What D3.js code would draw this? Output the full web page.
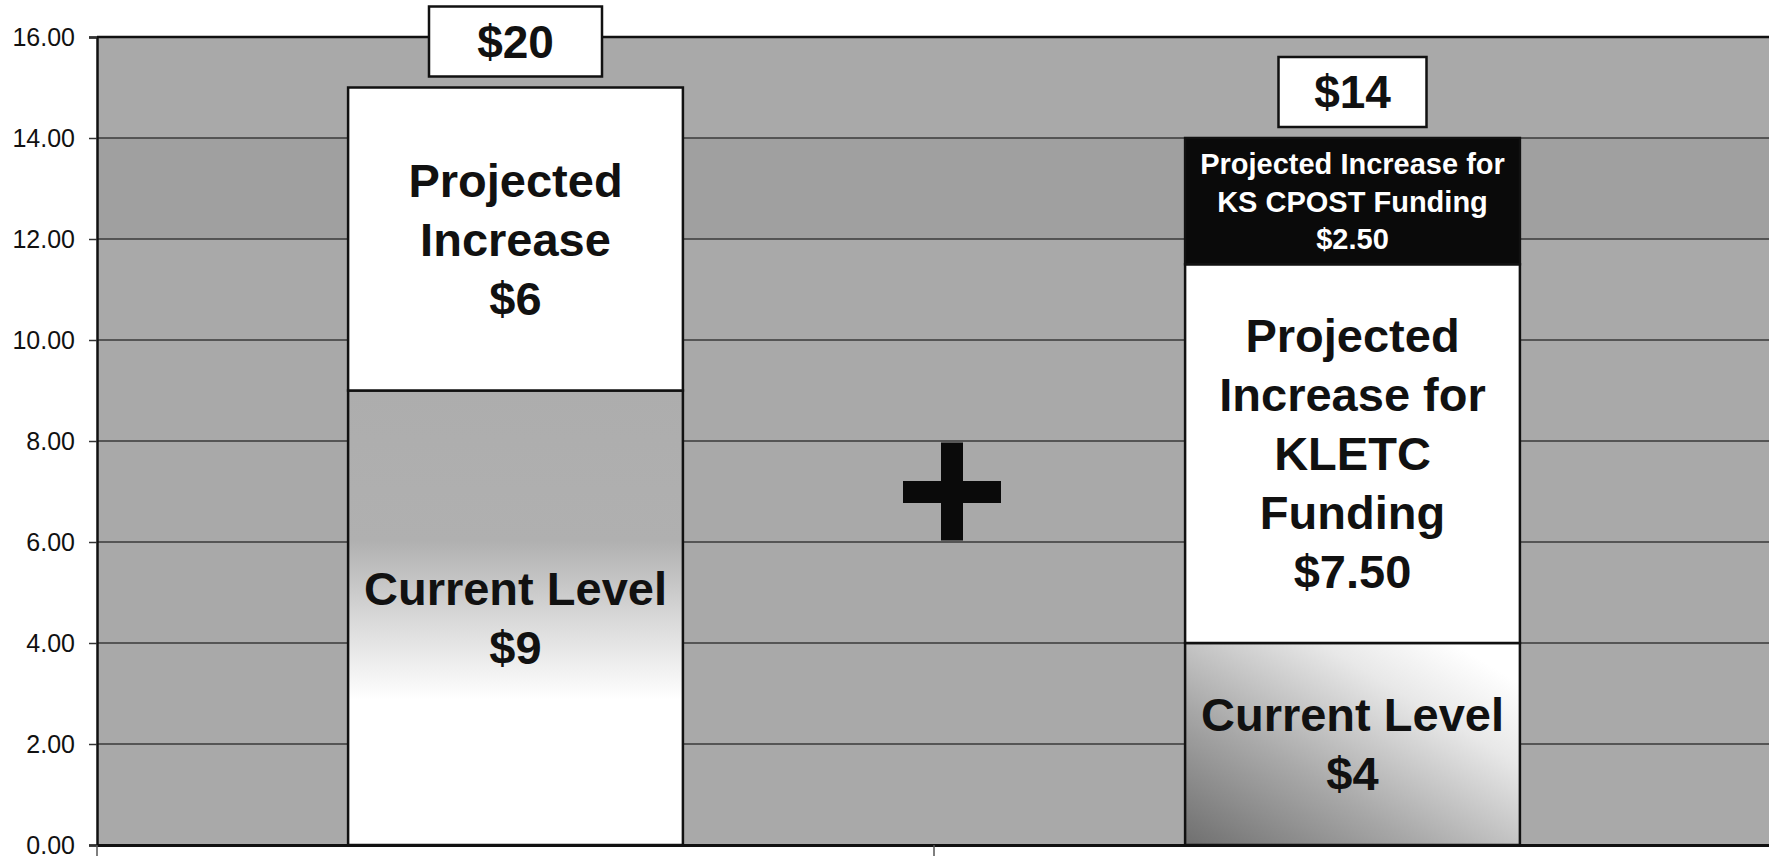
<!DOCTYPE html>
<html>
<head>
<meta charset="utf-8">
<script src="https://cdn.jsdelivr.net/npm/d3@7"></script>
<style>
  html, body { margin: 0; padding: 0; background: #fff; }
  svg { display: block; }
  text { font-family: "Liberation Sans", Arial, Helvetica, sans-serif; }
</style>
</head>
<body>
<svg id="chart" width="1769" height="859"></svg>
<script>
// ---- data ----
const categories = ["Current structure", "Proposed structure"];
const currentLevel = [9, 4];
const projectedIncrease = [6, 7.5];
const cpostIncrease = [0, 2.5];
const totalLabels = ["$20", "$14"];
const currentLabels = [["Current Level", "$9"], ["Current Level", "$4"]];
const increaseLabels = [["Projected", "Increase", "$6"], ["Projected", "Increase for", "KLETC", "Funding", "$7.50"]];
const cpostLabels = [[], ["Projected Increase for", "KS CPOST Funding", "$2.50"]];
const yTicks = [0, 2, 4, 6, 8, 10, 12, 14, 16];

// ---- layout ----
const W = 1769, H = 859;
const margin = { left: 97, right: -2, top: 37, bottom: 14 };
const svg = d3.select("#chart");
const defs = svg.append("defs");

const x = d3.scaleBand().domain(categories).range([margin.left, W - margin.right]).padding(0);
const y = d3.scaleLinear().domain([0, 16]).range([H - margin.bottom, margin.top]);
const barW = x.bandwidth() * 0.4;
const bx = c => x(c) + (x.bandwidth() - barW) / 2;

// gradients
const g1 = defs.append("linearGradient").attr("id", "cur0").attr("x1", 0).attr("y1", 0).attr("x2", 0).attr("y2", 1);
g1.append("stop").attr("offset", 0).attr("stop-color", "#adadad");
g1.append("stop").attr("offset", 0.33).attr("stop-color", "#b0b0b0");
g1.append("stop").attr("offset", 0.5).attr("stop-color", "#d8d8d8");
g1.append("stop").attr("offset", 0.68).attr("stop-color", "#ffffff");
g1.append("stop").attr("offset", 1).attr("stop-color", "#ffffff");
const g2 = defs.append("linearGradient").attr("id", "cur1").attr("x1", 0).attr("y1", 1).attr("x2", 1).attr("y2", 0);
g2.append("stop").attr("offset", 0).attr("stop-color", "#6f6f6f");
g2.append("stop").attr("offset", 0.35).attr("stop-color", "#a8a8a8");
g2.append("stop").attr("offset", 0.7).attr("stop-color", "#e8e8e8");
g2.append("stop").attr("offset", 0.9).attr("stop-color", "#ffffff");

// plot background
svg.append("rect")
  .attr("x", margin.left).attr("y", margin.top)
  .attr("width", W - margin.right - margin.left).attr("height", y(0) - margin.top)
  .attr("fill", "#a9a9a9");
// slightly darker band (scan shading) between 12 and 14
svg.append("rect")
  .attr("x", margin.left).attr("y", y(14))
  .attr("width", W - margin.right - margin.left).attr("height", y(12) - y(14))
  .attr("fill", "#a0a0a0");

// gridlines
svg.append("g").selectAll("line").data(yTicks.filter(d => d > 0 && d < 16)).join("line")
  .attr("x1", margin.left).attr("x2", W)
  .attr("y1", d => y(d)).attr("y2", d => y(d))
  .attr("stroke", "#3a3a3a").attr("stroke-width", 1.6);
// top border
svg.append("line").attr("x1", margin.left).attr("x2", W).attr("y1", y(16)).attr("y2", y(16))
  .attr("stroke", "#111").attr("stroke-width", 2.5);

// y axis
const yAxis = d3.axisLeft(y).tickValues(yTicks).tickFormat(d3.format(".2f")).tickSize(8).tickPadding(14);
const ya = svg.append("g").attr("transform", `translate(${margin.left},0)`).call(yAxis);
ya.select(".domain").attr("stroke", "#111").attr("stroke-width", 2.5);
ya.selectAll(".tick line").attr("stroke", "#333").attr("stroke-width", 1.5);
ya.selectAll(".tick text").attr("font-size", 25).attr("fill", "#111")
  .style("font-family", '"Liberation Sans", Arial, sans-serif');

// stacked bars
const segs = [];
categories.forEach((c, i) => {
  const a = currentLevel[i], b = a + projectedIncrease[i], t = b + cpostIncrease[i];
  segs.push({ c, i, y0: 0, y1: a, fill: `url(#cur${i})`, labels: currentLabels[i], big: true, color: "#111" });
  segs.push({ c, i, y0: a, y1: b, fill: "#ffffff", labels: increaseLabels[i], big: true, color: "#111" });
  if (cpostIncrease[i] > 0)
    segs.push({ c, i, y0: b, y1: t, fill: "#0a0a0a", labels: cpostLabels[i], big: false, color: "#ffffff" });
});

svg.append("g").selectAll("rect").data(segs).join("rect")
  .attr("x", d => bx(d.c)).attr("width", barW)
  .attr("y", d => y(d.y1)).attr("height", d => y(d.y0) - y(d.y1))
  .attr("fill", d => d.fill).attr("stroke", "#111").attr("stroke-width", 2.5);

// segment labels
const lg = svg.append("g");
segs.forEach(d => {
  const fs = d.big ? 47 : 29;
  const lh = d.big ? 59 : 37.5;
  const cap = fs * 0.716;
  const n = d.labels.length;
  if (!n) return;
  const cy = (y(d.y0) + y(d.y1)) / 2;
  const first = cy - ((n - 1) * lh + cap) / 2 + cap;
  const t = lg.append("text").attr("text-anchor", "middle")
    .attr("font-size", fs).attr("font-weight", "bold").attr("fill", d.color);
  d.labels.forEach((s, k) => {
    t.append("tspan").attr("x", bx(d.c) + barW / 2).attr("y", first + k * lh).text(s);
  });
});

// total labels in boxes
const boxW = [173, 148], boxH = 70;
categories.forEach((c, i) => {
  const top = currentLevel[i] + projectedIncrease[i] + cpostIncrease[i];
  const cx = bx(c) + barW / 2;
  const by = y(top) - 11 - boxH;
  svg.append("rect").attr("x", cx - boxW[i] / 2).attr("y", by).attr("width", boxW[i]).attr("height", boxH)
    .attr("fill", "#fff").attr("stroke", "#111").attr("stroke-width", 2.5);
  svg.append("text").attr("x", cx).attr("y", by + boxH / 2 + 46 * 0.716 / 2)
    .attr("text-anchor", "middle").attr("font-size", 46).attr("font-weight", "bold").attr("fill", "#111")
    .text(totalLabels[i]);
});

// bottom axis
const xa = svg.append("g").attr("transform", `translate(0,${y(0)})`)
  .call(d3.axisBottom(x).tickValues([]).tickSizeOuter(0));
xa.select(".domain").attr("stroke", "#111").attr("stroke-width", 3);
svg.append("line").attr("x1", x(categories[1])).attr("x2", x(categories[1]))
  .attr("y1", y(0)).attr("y2", y(0) + 11).attr("stroke", "#555").attr("stroke-width", 1.5);
svg.append("line").attr("x1", margin.left).attr("x2", margin.left)
  .attr("y1", y(0)).attr("y2", y(0) + 11).attr("stroke", "#555").attr("stroke-width", 1.5);

// plus sign between the bars
const px = x(categories[1]) + 18, py = y(7.0);
const arm = 49, thick = 22;
const plus = svg.append("g").attr("fill", "#0a0a0a");
plus.append("rect").attr("x", px - thick / 2).attr("y", py - arm).attr("width", thick).attr("height", arm * 2);
plus.append("rect").attr("x", px - arm).attr("y", py - thick / 2 + 0.5).attr("width", arm * 2).attr("height", thick);
</script>
</body>
</html>
